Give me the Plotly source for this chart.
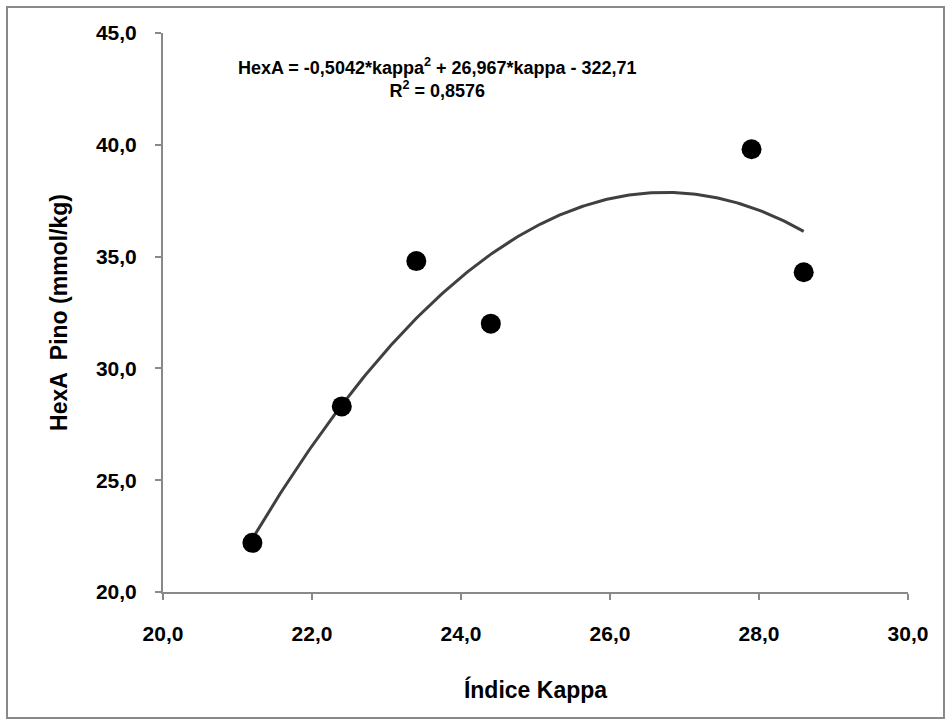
import numpy as np
import plotly.graph_objects as go

kappa = [21.2, 22.4, 23.4, 24.4, 27.9, 28.6]
hexa = [22.2, 28.3, 34.8, 32.0, 39.8, 34.3]
coef = [-0.5042, 26.967, -322.71]
x_ticks = [20, 22, 24, 26, 28, 30]
x_labels = ["20,0", "22,0", "24,0", "26,0", "28,0", "30,0"]
y_ticks = [20, 25, 30, 35, 40, 45]
y_labels = ["20,0", "25,0", "30,0", "35,0", "40,0", "45,0"]

xf = np.linspace(min(kappa), max(kappa), 200)
yf = coef[0] * xf**2 + coef[1] * xf + coef[2]

font_family = "Liberation Sans, Arial, sans-serif"
axis_col = "#898989"

fig = go.Figure()
fig.add_trace(go.Scatter(x=xf, y=yf, mode="lines",
                         line=dict(color="#404040", width=3), hoverinfo="skip"))
fig.add_trace(go.Scatter(x=kappa, y=hexa, mode="markers",
                         marker=dict(color="black", size=20)))

fig.update_layout(
    width=952, height=726,
    paper_bgcolor="white", plot_bgcolor="white",
    showlegend=False,
    margin=dict(l=163, r=44, t=33, b=134),
    font=dict(family=font_family, color="black"),
    xaxis=dict(range=[20, 30], tickvals=x_ticks, ticktext=x_labels,
               showgrid=False, zeroline=False, showline=True, linecolor=axis_col,
               linewidth=2, ticks="outside", ticklen=6, tickcolor=axis_col, tickwidth=2,
               ticklabelstandoff=16,
               tickfont=dict(size=21, family=font_family, weight="bold"),
               title=dict(text="<b>Índice Kappa</b>", font=dict(size=23), standoff=38)),
    yaxis=dict(range=[20, 45], tickvals=y_ticks, ticktext=y_labels,
               showgrid=False, zeroline=False, showline=True, linecolor=axis_col,
               linewidth=2, ticks="outside", ticklen=6, tickcolor=axis_col, tickwidth=2,
               ticklabelstandoff=14,
               tickfont=dict(size=21, family=font_family, weight="bold"),
               title=dict(text="<b>HexA  Pino (mmol/kg)</b>", font=dict(size=23), standoff=22)),
    shapes=[dict(type="rect", xref="paper", yref="paper",
                 x0=-0.2094, x1=1.0483, y0=-0.2254, y1=1.0465,
                 line=dict(color=axis_col, width=2), fillcolor="rgba(0,0,0,0)")],
    annotations=[dict(xref="paper", yref="paper", x=(437 - 163) / 745, y=(592 - 53) / 559,
                      text="<b>HexA = -0,5042*kappa<sup>2</sup> + 26,967*kappa - 322,71</b><br><b>R<sup>2</sup> = 0,8576</b>",
                      showarrow=False, font=dict(size=18, family=font_family), align="center")],
)

fig.write_html("out.html")
